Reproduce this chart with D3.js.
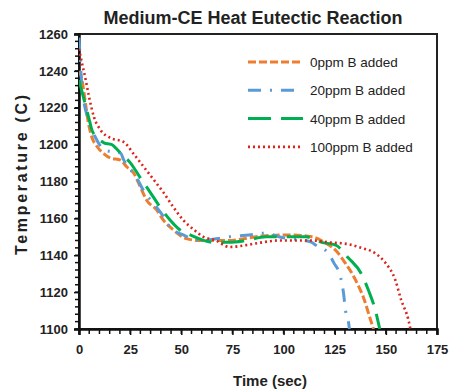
<!DOCTYPE html>
<html><head><meta charset="utf-8">
<script src="https://cdn.jsdelivr.net/npm/d3@7"></script>
<style>body{margin:0;background:#fff}svg{display:block}</style>
</head><body>
<script>
const title = "Medium-CE Heat Eutectic Reaction";
const xLabel = "Time (sec)";
const yLabel = "Temperature (C)";
const xTicks = [0,25,50,75,100,125,150,175];
const yTicks = [1100,1120,1140,1160,1180,1200,1220,1240,1260];
const seriesNames = ["0ppm B added","20ppm B added","40ppm B added","100ppm B added"];
const seriesColors = ["#ED7D31","#5B9BD5","#00B050","#D9261C"];
const seriesDash = ["8,3","13,9,2,9","23,10","2,3"];

const t0 = [0,0.8,5,6.3,8.8,12.2,15.4,20.3,23.3,26.7,30,33,37.9,41.3,46.2,52.5,59.1,72.5,90,102.5,113.8,120.6,126,130,135,139.5,142.5,144];
const T0 = [1240,1238,1209.5,1204,1199,1195,1192.7,1191.6,1188,1184.6,1177,1170,1164.6,1159,1153.7,1149,1148,1148,1150.5,1151,1150,1146.6,1142,1136,1127,1115.7,1105,1100];

const t20 = [0,1.5,5,8,12.6,20.3,21.9,28.2,31.6,36.5,41.3,44.6,51,59,73.4,83,91.4,97.7,113.8,115.7,122,124.5,127.9,129.3,130.3,131.7,132.2];
const T20 = [1258,1231,1212,1204,1197,1195.4,1191.6,1182,1175,1168,1161,1155,1151,1148,1150,1151,1152,1150,1147,1145.5,1141,1136,1128,1119.5,1110,1104,1100];

const t40 = [0,4.9,6.3,8.8,12.2,16,20.3,25.2,30,34.9,39.7,44.6,49.4,54.3,65.6,73.4,81.7,91.4,101,110.8,118.6,125.5,131.7,138,141.5,144.9,147];
const T40 = [1235,1214,1208,1204,1201,1200,1195.4,1190,1182,1174,1166,1159,1153.7,1151,1147,1147,1148,1150,1150,1150,1147,1145.5,1138.5,1130,1121,1110,1100];

const t100 = [0,1.5,3.3,4.9,7.3,10.5,15.4,21.9,26.7,31.6,36.5,41.3,46.2,51,56,60.8,67,73.4,81.7,89.5,97.7,113.8,122,131.7,138,144.9,149.7,154.6,157.5,161,162];
const T100 = [1252,1244,1235,1226,1215,1208,1203.6,1201.4,1195,1188,1181,1174,1166,1159,1154,1150,1148,1144.5,1145.5,1147,1148,1148,1147,1146,1144,1141,1136,1126.6,1115.7,1105,1100];

const tSeries = [t0,t20,t40,t100];
const TSeries = [T0,T20,T40,T100];

const W = 452, H = 392;
const m = {left:79, right:437, top:34, bottom:329};
const svg = d3.select("body").append("svg").attr("width",W).attr("height",H);
const font = "'Liberation Sans Narrow','Arial Narrow','Liberation Sans',sans-serif";

const x = d3.scaleLinear().domain([0,175]).range([m.left, m.right]);
const y = d3.scaleLinear().domain([1100,1260]).range([m.bottom, m.top]);

const defs = svg.append("defs");
defs.append("clipPath").attr("id","clip").append("rect")
  .attr("x",m.left).attr("y",m.top).attr("width",m.right-m.left).attr("height",m.bottom-m.top);

// frame
svg.append("rect").attr("x",m.left).attr("y",m.top).attr("width",m.right-m.left).attr("height",m.bottom-m.top)
  .attr("fill","none").attr("stroke","#222").attr("stroke-width",2);

// minor ticks
const xMinor = d3.range(0,176,5);
svg.append("g").selectAll("line").data(xMinor).join("line")
  .attr("x1",d=>x(d)).attr("x2",d=>x(d)).attr("y1",m.bottom-1).attr("y2",m.bottom+5)
  .attr("stroke","#111").attr("stroke-width",1.5);
const yMinor = d3.range(1100,1261,4);
svg.append("g").selectAll("line").data(yMinor).join("line")
  .attr("x1",m.left-4).attr("x2",m.left+1).attr("y1",d=>y(d)).attr("y2",d=>y(d))
  .attr("stroke","#111").attr("stroke-width",1.5);

// axes
const xAxis = svg.append("g").attr("transform",`translate(0,${m.bottom})`)
  .call(d3.axisBottom(x).tickValues(xTicks).tickSize(6).tickPadding(10));
const yAxis = svg.append("g").attr("transform",`translate(${m.left},0)`)
  .call(d3.axisLeft(y).tickValues(yTicks).tickSize(5).tickPadding(6).tickFormat(d3.format("d")));
[xAxis,yAxis].forEach(g=>{
  g.select(".domain").attr("stroke","#111").attr("stroke-width",2.5);
  g.selectAll(".tick line").attr("stroke","#111").attr("stroke-width",1.5);
  g.selectAll(".tick text").attr("font-family",font).attr("font-size",13).attr("font-weight","bold").attr("fill","#222");
});

// lines
const line = d3.line().curve(d3.curveMonotoneX);
const plot = svg.append("g").attr("clip-path","url(#clip)");
seriesNames.forEach((name,i)=>{
  const pts = tSeries[i].map((t,j)=>[x(t), y(TSeries[i][j])]);
  plot.append("path").attr("d", line(pts)).attr("fill","none")
    .attr("stroke",seriesColors[i]).attr("stroke-width", i===3?2.6:3)
    .attr("stroke-dasharray",seriesDash[i]);
});

// legend
const lg = svg.append("g");
seriesNames.forEach((name,i)=>{
  const ly = 62 + i*28.3;
  lg.append("line").attr("x1",248).attr("x2",303).attr("y1",ly).attr("y2",ly)
    .attr("stroke",seriesColors[i]).attr("stroke-width", i===3?2.6:3).attr("stroke-dasharray",seriesDash[i]);
  lg.append("text").attr("x",310).attr("y",ly+5).text(name)
    .attr("font-family",font).attr("font-size",13.5).attr("fill","#222");
});

// title
svg.append("text").attr("x",253).attr("y",24).attr("text-anchor","middle").text(title)
  .attr("font-family",font).attr("font-size",18).attr("font-weight","bold").attr("fill","#222");
// axis labels
svg.append("text").attr("x",270).attr("y",386).attr("text-anchor","middle").text(xLabel)
  .attr("font-family",font).attr("font-size",15).attr("font-weight","bold").attr("fill","#222");
svg.append("text").attr("transform","translate(27,175) rotate(-90)").attr("text-anchor","middle").text(yLabel)
  .attr("textLength",160).attr("lengthAdjust","spacing")
  .attr("font-family",font).attr("font-size",16).attr("font-weight","bold").attr("fill","#222");
</script>
</body></html>
